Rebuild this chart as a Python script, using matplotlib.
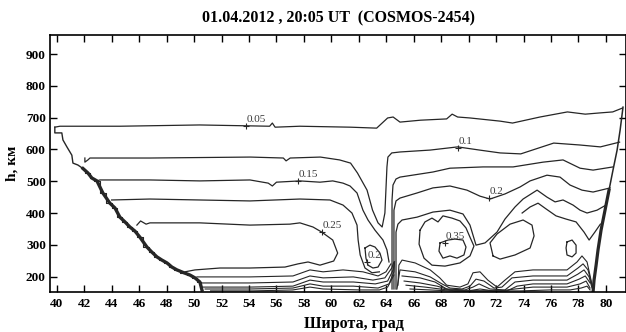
import matplotlib
matplotlib.use('Agg')
import matplotlib.pyplot as plt

plt.rcParams['font.family'] = ['Liberation Serif', 'DejaVu Serif']

title = '01.04.2012 , 20:05 UT  (COSMOS-2454)'
x_label = 'Широта, град'
y_label = 'h, км'
x_ticks = list(range(40, 81, 2))
y_ticks = list(range(200, 901, 100))

# contour lines, (latitude, height km)
edge_left_top = [(39.85, 670), (39.85, 652), (40.36, 652), (40.44, 630), (40.73, 608),
                 (41.09, 582), (41.17, 557), (41.53, 551), (41.90, 540)]
edge_left = [(41.90, 540), (42.26, 526), (42.55, 510), (42.92, 501), (43.35, 463),
             (43.86, 431), (44.23, 416), (44.59, 387), (44.96, 372), (45.32, 356),
             (45.69, 343), (46.05, 324), (46.56, 293), (46.92, 277), (47.29, 262),
             (47.65, 252), (48.02, 243), (48.38, 230), (48.75, 221), (49.26, 212),
             (49.69, 205), (50.06, 196), (50.42, 183), (50.57, 158)]
edge_right_top = [(81.25, 733), (81.04, 661), (80.82, 598), (80.52, 535), (80.23, 472)]
edge_right = [(80.23, 472), (79.94, 409), (79.65, 346), (79.43, 284), (79.29, 236),
              (79.14, 189), (79.07, 152)]

c005 = [(39.85, 670), (40.22, 673), (44.6, 673), (50.4, 677), (55.5, 673), (55.7, 683),
        (55.9, 670), (57.7, 673), (61.4, 670), (63.3, 667), (63.7, 683), (64.1, 699),
        (64.5, 702), (65.0, 686), (66.5, 692), (68.4, 696), (68.8, 711), (69.2, 702),
        (70.1, 699), (72.3, 689), (73.2, 683), (75.2, 702), (77.2, 718), (78.5, 711),
        (79.6, 715), (80.5, 718), (81.2, 730)]
c010 = [(42.04, 573), (42.04, 560), (42.26, 567), (42.41, 573), (46.8, 573), (54.1, 576),
        (56.5, 573), (56.7, 564), (57.0, 573), (59.2, 576), (60.6, 567), (61.4, 557),
        (61.9, 526), (62.6, 472), (63.0, 409), (63.4, 369), (63.7, 356), (63.9, 400),
        (64.05, 545), (64.12, 576), (64.4, 589), (65.0, 592), (67.2, 598), (69.2, 608),
        (70.8, 598), (72.3, 589), (73.8, 586), (76.2, 620), (78.1, 614), (79.6, 608),
        (81.0, 623)]
c015_left = [(42.92, 501), (43.13, 504), (46.78, 504), (50.42, 501), (54.07, 504),
             (55.4, 494), (55.7, 485), (56.0, 497), (57.7, 501), (59.17, 497), (60.1, 501),
             (60.85, 494), (61.36, 485), (61.87, 463), (62.3, 409), (62.67, 378),
             (63.18, 346), (63.76, 315), (64.05, 284), (64.2, 246)]
c020_left = [(43.99, 441), (46.78, 444), (50.42, 441), (54.07, 438), (57.71, 444),
             (59.9, 441), (60.85, 425), (61.5, 400), (61.87, 362), (61.95, 315),
             (62.1, 268), (62.45, 227), (62.96, 212), (63.5, 215)]
c020_island = [(62.45, 290), (62.81, 299), (63.18, 293), (63.54, 274), (63.69, 252),
               (63.4, 230), (63.03, 227), (62.67, 236), (62.52, 258), (62.45, 290)]
c025_left = [(45.83, 362), (46.1, 375), (46.5, 365), (46.78, 369), (50.42, 369),
             (54.07, 362), (56.98, 365), (57.71, 369), (58.66, 356), (59.3, 340),
             (60.1, 315), (60.46, 274), (60.17, 249), (59.17, 236), (58.3, 246),
             (57.57, 240), (56.62, 230), (54.07, 227), (51.88, 227), (50.06, 221),
             (49.33, 215)]
low_left = [
    [(50.2, 199), (54.07, 199), (57.2, 202), (58.44, 221), (59.4, 215), (60.85, 221),
     (62.3, 215), (63.4, 202), (63.98, 215), (64.34, 240)],
    [(50.42, 180), (54.07, 180), (57.2, 183), (58.44, 202), (59.4, 196), (61.6, 199),
     (63.03, 189), (63.9, 196), (64.4, 227), (64.56, 246)],
    [(50.57, 167), (54.07, 167), (57.2, 170), (58.44, 189), (59.4, 183), (61.6, 183),
     (63.2, 177), (64.1, 186), (64.5, 221), (64.6, 246)],
    [(50.8, 161), (54.07, 161), (57.2, 164), (58.44, 177), (59.4, 170), (61.6, 170),
     (63.4, 164), (64.2, 177), (64.56, 215), (64.6, 246)],
    [(51.2, 155), (54.3, 155), (57.2, 158), (58.44, 167), (59.4, 161), (62.1, 158),
     (63.5, 158), (64.1, 167), (64.56, 205)],
]

c015_right = [(64.42, 161), (64.42, 441), (64.49, 488), (64.71, 507), (65.0, 513),
              (67.4, 529), (68.64, 541), (71.05, 545), (73.24, 545), (75.42, 560),
              (76.88, 567), (78.12, 541), (79.07, 535), (80.52, 545)]
c020_right = [(64.56, 161), (64.56, 409), (64.71, 438), (65.0, 447), (66.24, 463),
              (67.4, 479), (68.64, 485), (69.88, 472), (70.83, 453), (71.56, 444),
              (72.65, 460), (73.75, 482), (74.48, 501), (75.71, 519), (76.66, 513),
              (77.39, 488), (78.26, 472), (79.07, 466), (80.31, 479)]
c025_right = [(64.71, 161), (64.71, 340), (64.85, 365), (65.15, 378), (66.24, 387),
              (67.4, 403), (68.64, 409), (69.59, 397), (70.1, 362), (70.54, 299),
              (71.2, 306), (72.07, 340), (72.65, 381), (73.38, 419), (73.97, 444),
              (74.99, 472), (75.71, 450), (76.3, 435), (76.88, 441), (77.61, 425),
              (78.12, 409), (78.63, 400), (79.36, 409), (80.01, 425)]
c030_right = [(79.6, 365), (79.2, 340), (78.78, 315), (78.41, 340), (77.83, 372),
              (77.1, 381), (76.37, 391), (75.64, 413), (75.06, 431), (74.48, 419),
              (73.9, 400)]
c030_loop_a = [(66.46, 346), (66.82, 372), (67.33, 384), (67.77, 372), (68.13, 391),
               (68.79, 384), (69.37, 375), (69.81, 353), (70.1, 324), (70.39, 296),
               (70.1, 265), (69.37, 243), (68.28, 233), (67.33, 236), (66.75, 258),
               (66.39, 302), (66.46, 346)]
c030_loop_b = [(71.78, 265), (71.56, 306), (72.07, 334), (73.02, 365), (73.97, 378),
               (74.62, 362), (74.77, 328), (74.48, 290), (73.38, 268), (72.29, 255),
               (71.78, 265)]
c030_loop_c = [(77.17, 309), (77.54, 315), (77.83, 299), (77.83, 274), (77.54, 262),
               (77.17, 268), (77.1, 290), (77.17, 309)]
c035_loop = [(67.92, 306), (68.5, 315), (69.0, 318), (69.59, 315), (69.81, 293),
             (69.66, 268), (69.15, 258), (68.64, 265), (68.13, 258), (67.84, 280),
             (67.92, 306)]
low_right = [
    [(64.85, 173), (64.92, 236), (65.15, 252), (66.1, 243), (67.2, 221), (67.9, 196),
     (68.4, 173), (69.37, 167), (69.95, 177), (70.32, 212), (70.83, 215), (71.4, 189),
     (72.07, 167), (72.65, 189), (73.38, 215), (74.69, 221), (75.93, 221), (77.17, 221),
     (77.9, 246), (78.26, 265), (78.63, 246), (78.92, 189), (79.07, 158)],
    [(64.78, 161), (65.0, 221), (66.1, 215), (67.2, 199), (68.06, 177), (68.64, 164),
     (69.52, 161), (70.1, 170), (70.54, 192), (71.12, 186), (71.85, 164), (72.43, 167),
     (73.16, 196), (74.69, 202), (77.17, 202), (77.97, 227), (78.34, 240), (78.7, 221),
     (78.99, 173)],
    [(65.15, 202), (66.46, 196), (67.55, 183), (68.4, 161), (69.73, 158), (70.32, 167),
     (70.76, 177), (71.56, 161), (72.65, 158), (73.38, 183), (74.69, 189), (77.17, 189),
     (77.97, 208), (78.41, 221), (78.78, 199), (78.99, 164)],
    [(65.3, 186), (66.46, 180), (67.7, 170), (68.64, 158), (69.95, 155), (70.83, 161),
     (71.78, 155), (72.8, 155), (73.53, 170), (74.69, 177), (77.17, 177), (78.05, 192),
     (78.5, 202), (78.85, 180)],
    [(65.44, 173), (66.82, 167), (67.92, 161), (69.0, 155), (70.1, 155), (71.2, 155),
     (72.29, 155), (73.38, 161), (74.69, 167), (77.17, 167), (78.12, 177), (78.56, 186),
     (78.85, 164)],
    [(65.73, 161), (67.19, 158), (68.64, 155), (70.83, 155), (73.75, 155), (75.93, 158),
     (77.39, 158), (78.2, 164), (78.63, 170), (78.85, 158)],
]

label_text = ['0.05', '0.1', '0.15', '0.2', '0.25', '0.2', '0.35']
label_pos = [(53.78, 674), (69.23, 605), (57.57, 501), (71.49, 447), (59.3, 340),
             (62.6, 246), (68.28, 306)]

fig = plt.figure(figsize=(6.26, 3.32), dpi=100)
ax = fig.add_axes([0.0799, 0.119, 0.9208, 0.7756])

line_col = '#262626'


def draw(pts, lw=0.9, **kw):
    xs = [p[0] for p in pts]
    hs = [p[1] for p in pts]
    ax.plot(xs, hs, color=line_col, lw=lw, solid_joinstyle='round', **kw)


for pts in [c005, c010, c015_left, c020_left, c020_island, c025_left,
            c015_right, c020_right, c025_right, c030_right,
            c030_loop_a, c030_loop_b, c030_loop_c, c035_loop]:
    draw(pts)
for pts in low_left + low_right:
    draw(pts, lw=0.8)

draw(edge_left_top, lw=1.0)
draw(edge_left, lw=2.4)
draw(edge_left, lw=0.8, drawstyle='steps-mid')
draw(edge_right_top, lw=1.1)
draw(edge_right, lw=2.3)

for txt, (lx, lh) in zip(label_text, label_pos):
    ax.plot(lx, lh, marker='+', ms=4, mew=0.8, color=line_col)
    ax.annotate(txt, (lx, lh), xytext=(0.5, 1.5), textcoords='offset points',
                ha='left', va='bottom', fontsize=8, color='#3a3a3a')

ax.set_xlim(39.5, 81.5)
ax.set_ylim(150, 960)
ax.set_xticks(x_ticks)
ax.set_yticks(y_ticks)
ax.tick_params(direction='in', top=True, right=True, length=5, width=1.0,
               labelsize=9.5, pad=4)
ax.tick_params(axis='y', pad=3)
for lab in ax.get_xticklabels() + ax.get_yticklabels():
    lab.set_fontweight('bold')
for sp in ax.spines.values():
    sp.set_linewidth(1.2)

ax.set_title(title, fontsize=11.5, fontweight='bold', pad=9)
ax.set_xlabel(x_label, fontsize=11.5, fontweight='bold')
ax.set_ylabel(y_label, fontsize=11, fontweight='bold')
ax.xaxis.set_label_coords(0.527, -0.09)
ax.yaxis.set_label_coords(-0.054, 0.5)

fig.savefig('out.png', dpi=100)
